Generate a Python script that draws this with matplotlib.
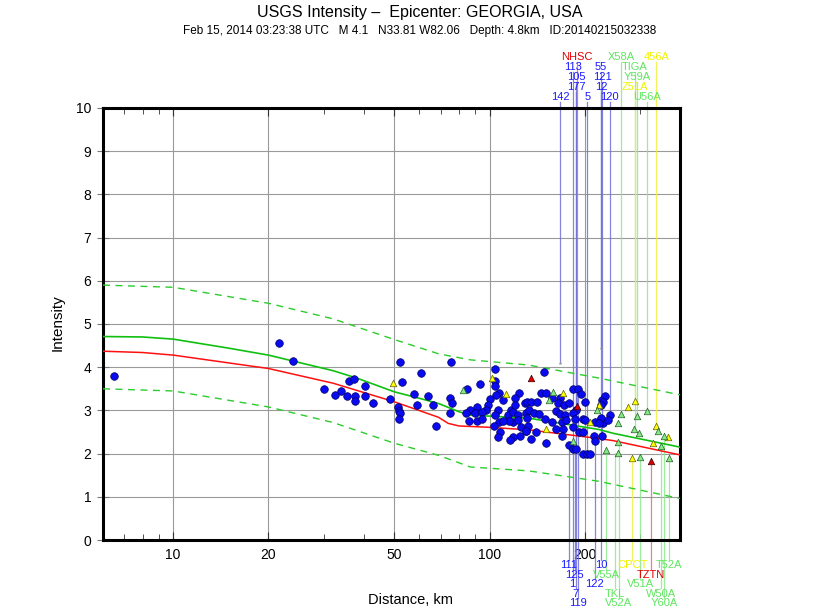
import matplotlib
matplotlib.use('Agg')
import matplotlib.pyplot as plt
from matplotlib.ticker import FixedLocator, FixedFormatter, LogLocator, NullFormatter

plt.rcParams['font.family'] = ['Liberation Sans', 'DejaVu Sans']

title = 'USGS Intensity \u2013  Epicenter: GEORGIA, USA'
subtitle = ('Feb 15, 2014 03:23:38 UTC   M 4.1   N33.81 W82.06   '
            'Depth: 4.8km   ID:20140215032338')

# predicted intensity (green), red curve and +/- sigma (dashed)
pred_dist = [6, 8, 10, 15, 20, 24, 32, 38, 50, 60, 69, 80, 87, 133, 221, 246, 400]
pred_int = [4.71, 4.70, 4.65, 4.44, 4.28, 4.14, 3.92, 3.75, 3.43, 3.28, 3.16,
            2.97, 2.89, 2.82, 2.56, 2.47, 2.15]
red_dist = [6, 8, 10, 20, 32, 50, 69, 74, 80, 99, 133, 221, 246, 400]
red_int = [4.37, 4.34, 4.28, 3.97, 3.63, 3.20, 2.84, 2.70, 2.64, 2.61, 2.55,
           2.35, 2.30, 1.97]
sig_dist = [6, 10, 20, 32, 50, 69, 87, 133, 221, 400]
upper_int = [5.90, 5.85, 5.48, 5.12, 4.64, 4.31, 4.17, 4.05, 3.75, 3.36]
lower_int = [3.50, 3.45, 3.08, 2.72, 2.24, 1.96, 1.69, 1.60, 1.36, 0.96]

# DYFI / station observations
blue_dist = [6.5, 21.6, 24, 29.9, 32.4, 33.9, 35.5, 35.9, 37.3, 37.6, 37.5, 40.3,
             40.3, 42.7, 48.3, 51.3, 51.6, 52, 51.8, 52, 53, 57.5, 58.9, 60.8,
             63.7, 66.5, 67.6,
             75.6, 104, 93, 104, 104, 84.7, 75, 76, 75, 107, 105, 110, 124, 120,
             100, 99, 97.6, 91, 86.5, 84.5, 90, 94.5, 91, 86, 94.5, 106, 104, 107,
             103, 108, 106, 117, 114, 119, 123, 120, 119, 115, 110, 123, 129, 130,
             126, 125, 119, 116, 130,
             149, 145, 151, 183, 191, 194, 158, 167, 165, 172, 178, 131, 135, 141,
             188, 201, 227, 231, 240, 133, 138, 143, 162, 167, 173, 184, 131, 150,
             158, 170, 175, 186, 198, 201, 216, 225, 229, 236, 132, 130, 140, 162,
             171, 183, 192, 198, 135, 170, 214, 227, 215, 151, 178, 183, 188, 198,
             204, 208, 229, 225, 225, 222]
blue_int = [3.80, 4.55, 4.14, 3.50, 3.36, 3.45, 3.33, 3.69, 3.72, 3.33, 3.22, 3.56,
            3.33, 3.18, 3.26, 3.09, 2.99, 2.93, 2.80, 4.13, 3.66, 3.37, 3.12, 3.87,
            3.34, 3.12, 2.65,
            4.11, 3.95, 3.62, 3.68, 3.56, 3.49, 3.28, 3.16, 2.93, 3.41, 3.36, 3.24,
            3.41, 3.29, 3.26, 3.12, 3.02, 3.09, 3.01, 2.93, 2.95, 2.97, 2.75, 2.75,
            2.79, 3.02, 2.89, 2.74, 2.64, 2.51, 2.38, 3.01, 2.89, 2.97, 2.89, 3.12,
            2.74, 2.75, 2.75, 2.78, 3.16, 2.93, 2.62, 2.41, 2.38, 2.31, 2.53,
            3.90, 3.41, 3.41, 3.49, 3.49, 3.38, 3.29, 3.29, 3.18, 3.12, 3.18, 3.20,
            3.20, 3.20, 3.01, 3.20, 3.24, 3.33, 2.89, 3.01, 2.95, 2.91, 2.99, 2.91,
            2.89, 2.93, 2.82, 2.79, 2.72, 2.72, 2.78, 2.79, 2.79, 2.78, 2.74, 2.79,
            2.70, 2.78, 2.64, 2.53, 2.51, 2.58, 2.56, 2.61, 2.51, 2.51, 2.33, 2.41,
            2.41, 2.41, 2.30, 2.24, 2.20, 2.10, 2.10, 1.99, 1.99, 1.99, 3.20, 3.12,
            2.82, 2.70]

yellow_dist = [49.5, 102, 113, 171, 222, 208, 151, 273, 289, 337, 328, 367, 283]
yellow_int = [3.64, 3.76, 3.39, 3.41, 3.12, 2.74, 2.56, 3.07, 3.22, 2.64, 2.24, 2.39, 1.89]
green_dist = [82.7, 159, 154, 218, 183, 234, 260, 293, 315, 255, 286, 297, 341,
              255, 357, 349, 255, 299, 369]
green_int = [3.47, 3.43, 3.24, 3.01, 2.30, 2.08, 2.91, 2.87, 2.99, 2.70, 2.58, 2.48,
             2.53, 2.28, 2.41, 2.18, 2.01, 1.93, 1.89]
red_tri_dist = [135, 189, 324]
red_tri_int = [3.74, 3.10, 1.83]
grey_dist = [167, 225]
grey_int = [4.10, 4.44]

# labelled stations
st_name = ['NHSC', 'X58A', '456A', '113', '55', 'TIGA', '105', '121', 'Y59A', '177',
           '12', 'Z51A', '142', '5', '120', 'U56A',
           '111', '10', 'CPCT', 'T52A', '125', 'V55A', 'TZTN', '1', '122', 'V51A',
           '7', 'TKL', 'W50A', '119', 'V52A', 'Y60A']
st_dist = [189, 260, 337, 184, 225, 288, 188, 227, 293, 188, 225, 289, 167, 204, 240, 315,
           178, 225, 283, 369, 186, 234, 324, 183, 215, 299, 187, 249, 349, 190, 256, 357]
st_int = [3.10, 2.91, 2.64, 2.93, 4.44, 2.58, 2.10, 2.41, 2.87, 3.01, 3.12, 3.22, 4.10,
          1.99, 2.89, 2.99,
          2.20, 2.70, 1.89, 1.89, 2.10, 2.08, 1.83, 2.61, 2.30, 1.93, 2.79, 2.01, 2.18,
          3.49, 2.28, 2.41]
st_kind = ['r', 'g', 'y', 'b', 'b', 'g', 'b', 'b', 'g', 'b', 'b', 'y', 'b', 'b', 'b', 'g',
           'b', 'b', 'y', 'g', 'b', 'g', 'r', 'b', 'b', 'g', 'b', 'g', 'g', 'b', 'g', 'g']
top_rows = [['NHSC', 'X58A', '456A'], ['113', '55', 'TIGA'], ['105', '121', 'Y59A'],
            ['177', '12', 'Z51A'], ['142', '5', '120', 'U56A']]
bottom_rows = [['111', '10', 'CPCT', 'T52A'], ['125', 'V55A', 'TZTN'],
               ['1', '122', 'V51A'], ['7', 'TKL', 'W50A'], ['119', 'V52A', 'Y60A']]

x_ticks = [10, 20, 50, 100, 200]

text_col = {'b': '#1a1aff', 'g': '#5fe65f', 'y': '#f2f200', 'r': '#e00000'}
line_col = {'b': '#7070d8', 'g': '#8ce88c', 'y': '#f0f040', 'r': '#e07070'}

fig = plt.figure(figsize=(8.4, 6.12), dpi=100)
ax = fig.add_axes([103 / 840, 72 / 612, 577 / 840, 432 / 612])

# station lines + labels (outside the frame)
for r, names in enumerate(top_rows):
    ly = 11.18 - 0.231 * r
    for n in names:
        i = st_name.index(n)
        k = st_kind[i]
        ax.plot([st_dist[i], st_dist[i]], [st_int[i], ly - 0.12], color=line_col[k],
                lw=0.9, alpha=0.85, clip_on=False, zorder=1)
        ax.text(st_dist[i], ly, n, color=text_col[k], fontsize=8, ha='center',
                va='center', clip_on=False)
for r, names in enumerate(bottom_rows):
    ly = -0.58 - 0.22 * r
    for n in names:
        i = st_name.index(n)
        k = st_kind[i]
        ax.plot([st_dist[i], st_dist[i]], [st_int[i], ly + 0.12], color=line_col[k],
                lw=0.9, alpha=0.85, clip_on=False, zorder=1)
        ax.text(st_dist[i], ly, n, color=text_col[k], fontsize=8, ha='center',
                va='center', clip_on=False)

# curves
ax.plot(sig_dist, upper_int, color='#2ccc2c', lw=1.0, dashes=(5, 4), zorder=3)
ax.plot(sig_dist, lower_int, color='#2ccc2c', lw=1.0, dashes=(5, 4), zorder=3)
ax.plot(red_dist, red_int, color='#ff1010', lw=1.1, zorder=3)
ax.plot(pred_dist, pred_int, color='#10c010', lw=1.2, zorder=3)

# observations
ax.scatter(blue_dist, blue_int, s=30, c='#0a0af0', edgecolors='#000060',
           linewidths=0.5, zorder=5)
ax.scatter(yellow_dist, yellow_int, s=22, marker='^', c='#ffff00',
           edgecolors='#606000', linewidths=0.5, zorder=5)
ax.scatter(green_dist, green_int, s=22, marker='^', c='#88e888',
           edgecolors='#206020', linewidths=0.5, zorder=5)
ax.scatter(red_tri_dist, red_tri_int, s=22, marker='^', c='#dd0000',
           edgecolors='#400000', linewidths=0.5, zorder=5)
ax.scatter(grey_dist, grey_int, s=8, marker='*', c='#909090', linewidths=0, zorder=5)

ax.set_xscale('log')
ax.set_xlim(6, 400)
ax.set_ylim(0, 10)
ax.xaxis.set_major_locator(FixedLocator(x_ticks))
ax.xaxis.set_major_formatter(FixedFormatter([str(t) for t in x_ticks]))
ax.xaxis.set_minor_locator(LogLocator(base=10, subs=range(2, 10)))
ax.xaxis.set_minor_formatter(NullFormatter())
ax.set_yticks(range(0, 11))

ax.grid(True, which='major', color='#9a9a9a', lw=0.8)
ax.set_axisbelow(True)
ax.tick_params(axis='x', which='both', direction='in', top=True, bottom=True,
               labelsize=10, pad=6, color='#333333')
ax.tick_params(axis='x', which='major', length=6)
ax.tick_params(axis='x', which='minor', length=4)
ax.tick_params(axis='y', direction='inout', length=9, labelsize=10, pad=4,
               color='#777777')
for sp in ax.spines.values():
    sp.set_linewidth(2.2)
    sp.set_color('black')

fig.text(0.5, 1 - 12 / 612, title, ha='center', va='center', fontsize=11.5)
fig.text(0.5, 1 - 31 / 612, subtitle, ha='center', va='center', fontsize=8.5)
fig.text(410 / 840, 1 - 600 / 612, 'Distance, km', ha='center', va='center',
         fontsize=10.5)
fig.text(58 / 840, 1 - 323 / 612, 'Intensity', ha='center', va='center',
         rotation=90, fontsize=11)

fig.savefig('out.png', dpi=100)
